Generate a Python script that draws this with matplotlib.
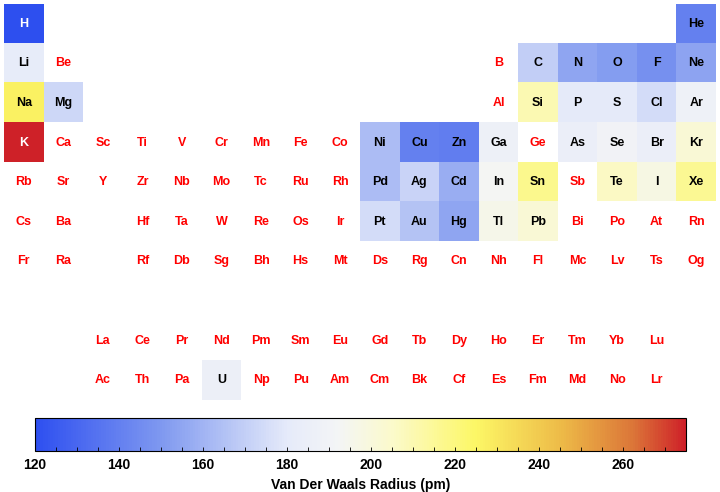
import numpy as np
import matplotlib
matplotlib.use("Agg")
import matplotlib.pyplot as plt
from matplotlib.colors import LinearSegmentedColormap, Normalize
from matplotlib.ticker import MultipleLocator

plt.rcParams['font.family'] = ['Liberation Sans', 'DejaVu Sans']

# element symbols in order of atomic number
symbols = ("H He Li Be B C N O F Ne Na Mg Al Si P S Cl Ar K Ca Sc Ti V Cr Mn Fe Co Ni Cu Zn "
           "Ga Ge As Se Br Kr Rb Sr Y Zr Nb Mo Tc Ru Rh Pd Ag Cd In Sn Sb Te I Xe Cs Ba "
           "La Ce Pr Nd Pm Sm Eu Gd Tb Dy Ho Er Tm Yb Lu Hf Ta W Re Os Ir Pt Au Hg Tl Pb "
           "Bi Po At Rn Fr Ra Ac Th Pa U Np Pu Am Cm Bk Cf Es Fm Md No Lr Rf Db Sg Bh Hs "
           "Mt Ds Rg Cn Nh Fl Mc Lv Ts Og").split()

# Van der Waals radius (pm), only elements that have a value
radius_symbols = ["H", "He", "Li", "C", "N", "O", "F", "Ne", "Na", "Mg", "Si", "P", "S",
                  "Cl", "Ar", "K", "Ni", "Cu", "Zn", "Ga", "As", "Se", "Br", "Kr", "Pd",
                  "Ag", "Cd", "In", "Sn", "Te", "I", "Xe", "Pt", "Au", "Hg", "Tl", "Pb", "U"]
radius_values = [120, 140, 182, 170, 155, 152, 147, 154, 227, 173, 210, 180, 180,
                 175, 188, 275, 163, 140, 139, 187, 185, 190, 185, 202, 163,
                 172, 158, 193, 217, 206, 198, 216, 175, 166, 155, 196, 202, 186]

cbar_ticks = [120, 140, 160, 180, 200, 220, 240, 260]
vmin, vmax = 120, 275


def position(z):
    # (row, column) in the table, rows 9 and 10 are lanthanides / actinides
    if z == 1:
        return 1, 1
    if z == 2:
        return 1, 18
    if z <= 4:
        return 2, z - 2
    if z <= 10:
        return 2, z + 8
    if z <= 12:
        return 3, z - 10
    if z <= 18:
        return 3, z
    if z <= 36:
        return 4, z - 18
    if z <= 54:
        return 5, z - 36
    if z <= 56:
        return 6, z - 54
    if z <= 71:
        return 9, z - 54
    if z <= 86:
        return 6, z - 68
    if z <= 88:
        return 7, z - 86
    if z <= 103:
        return 10, z - 86
    return 7, z - 100


cmap = LinearSegmentedColormap.from_list("temp", [
    (0.0, (0.18, 0.31, 0.94)),
    (0.194, (0.50, 0.60, 0.94)),
    (0.387, (0.90, 0.92, 0.98)),
    (0.465, (0.955, 0.96, 0.965)),
    (0.548, (0.985, 0.98, 0.80)),
    (0.677, (0.99, 0.97, 0.40)),
    (0.81, (0.93, 0.73, 0.28)),
    (0.92, (0.86, 0.46, 0.22)),
    (1.0, (0.81, 0.13, 0.16)),
])
norm = Normalize(vmin, vmax)

radius = dict(zip(radius_symbols, radius_values))
grid = np.full((10, 18), np.nan)
for z, s in enumerate(symbols, start=1):
    r, c = position(z)
    if s in radius:
        grid[r - 1, c - 1] = radius[s]

fig = plt.figure(figsize=(7.2, 4.92), dpi=100)
W, H = 720, 492
ax = fig.add_axes([4 / W, 1 - 400 / H, 712 / W, 396 / H])
ax.imshow(np.ma.masked_invalid(grid), cmap=cmap, norm=norm, aspect='auto',
          extent=(0.5, 18.5, 10.5, 0.5), interpolation='nearest')
ax.set_xlim(0.5, 18.5)
ax.set_ylim(10.5, 0.5)
ax.axis('off')

for z, s in enumerate(symbols, start=1):
    r, c = position(z)
    if s in radius:
        t = norm(radius[s])
        color = 'white' if (t < 0.08 or t > 0.85) else 'black'
    else:
        color = 'red'
    ax.text(c, r, s, ha='center', va='center', fontsize=9, fontweight='bold', color=color)

cax = fig.add_axes([35 / W, 1 - 451 / H, 651 / W, 33 / H])
sm = plt.cm.ScalarMappable(norm=norm, cmap=cmap)
cb = fig.colorbar(sm, cax=cax, orientation='horizontal')
cb.set_ticks(cbar_ticks)
cax.xaxis.set_minor_locator(MultipleLocator(5))
cax.tick_params(axis='x', which='major', direction='in', length=3, width=0.6,
                labelsize=10, pad=5)
cax.tick_params(axis='x', which='minor', direction='in', length=3, width=0.6)
for lab in cax.get_xticklabels():
    lab.set_fontweight('bold')
cb.outline.set_linewidth(0.8)
cb.set_label('Van Der Waals Radius (pm)', fontsize=10, fontweight='bold', labelpad=4)

fig.savefig('out.png', dpi=100)
